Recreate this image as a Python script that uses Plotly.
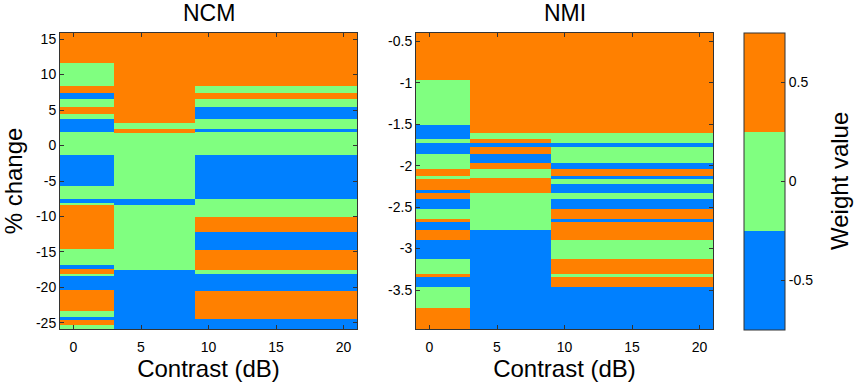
import plotly.graph_objects as go

# ---------------- data ----------------
contrast_edges = [-1, 3, 9, 21]          # column edges (dB)

# NCM panel: row boundaries (% change, top -> bottom) and weight per band
ncm_c1_bounds = [15.85, 11.58, 8.38, 7.35, 6.51, 5.38, 4.48, 3.69, 1.86, -1.34, -5.70, -7.58,
                 -8.14, -8.42, -14.62, -16.83, -17.44, -18.14, -18.34, -20.35, -23.31, -24.11,
                 -24.58, -25.28, -25.85]
ncm_c1_weights = [0.5, 0, 0.5, -0.5, 0, 0.5, 0, -0.5, 0, -0.5, 0, -0.5, 0, 0.5, 0, -0.5, 0.5,
                  0, -0.5, 0.5, 0, -0.5, 0.5, 0]
ncm_c2_bounds = [15.85, 3.21, 2.37, 1.80, -7.58, -8.38, -17.54, -25.85]
ncm_c2_weights = [0.5, 0, 0.5, 0, -0.5, 0, -0.5]
ncm_c3_bounds = [15.85, 8.40, 7.35, 6.51, 5.38, 3.77, 2.37, 1.86, -1.34, -7.58, -10.11, -12.14,
                 -14.72, -17.54, -18.14, -20.45, -24.48, -25.85]
ncm_c3_weights = [0.5, 0, 0.5, 0, -0.5, 0, -0.5, 0, -0.5, 0, 0.5, -0.5, 0.5, 0, -0.5, 0.5, -0.5]

# NMI panel
nmi_c1_bounds = [-0.40, -0.97, -1.51, -1.68, -1.725, -1.865, -2.046, -2.123, -2.159, -2.295,
                 -2.335, -2.407, -2.528, -2.648, -2.681, -2.777, -2.898, -3.127, -3.307,
                 -3.340, -3.467, -3.713, -3.97]
nmi_c1_weights = [0.5, 0, -0.5, 0, -0.5, 0, 0.5, 0, 0.5, -0.5, 0.5, -0.5, 0, 0.5, -0.5, 0.5,
                  -0.5, 0, 0.5, -0.5, 0, 0.5]
nmi_c2_bounds = [-0.40, -1.60, -1.684, -1.725, -1.773, -1.865, -1.973, -2.046, -2.154, -2.335,
                 -2.777, -3.97]
nmi_c2_weights = [0.5, 0, 0.5, -0.5, 0.5, -0.5, 0.5, 0, 0.5, 0, -0.5]
nmi_c3_bounds = [-0.40, -1.60, -1.725, -1.773, -1.973, -2.046, -2.123, -2.159, -2.227, -2.335,
                 -2.407, -2.528, -2.648, -2.681, -2.898, -3.127, -3.307, -3.340, -3.467, -3.97]
nmi_c3_weights = [0.5, 0, -0.5, 0, -0.5, 0.5, -0.5, 0, -0.5, 0, -0.5, 0.5, -0.5, 0.5, 0, 0.5,
                  0, 0.5, -0.5]

x_ticks = [0, 5, 10, 15, 20]
ncm_yticks = [15, 10, 5, 0, -5, -10, -15, -20, -25]
ncm_ylabels = ["15", "10", "5", "0", "-5", "-10", "-15", "-20", "-25"]
nmi_yticks = [-0.5, -1, -1.5, -2, -2.5, -3, -3.5]
nmi_ylabels = ["-0.5", "-1", "-1.5", "-2", "-2.5", "-3", "-3.5"]
cbar_ticks = [-0.5, 0, 0.5]
cbar_labels = ["-0.5", "0", "0.5"]

# ---------------- figure ----------------
W, H = 856, 385
FONT = "Liberation Sans, Arial, sans-serif"
BLUE, GREEN, ORANGE = "#0080FF", "#80FF80", "#FF8000"

fig = go.Figure()

panels = [
    ("x", "y", [(ncm_c1_bounds, ncm_c1_weights), (ncm_c2_bounds, ncm_c2_weights),
                (ncm_c3_bounds, ncm_c3_weights)]),
    ("x2", "y2", [(nmi_c1_bounds, nmi_c1_weights), (nmi_c2_bounds, nmi_c2_weights),
                  (nmi_c3_bounds, nmi_c3_weights)]),
]
for xa, ya, cols in panels:
    for i, (bounds, weights) in enumerate(cols):
        yb = list(reversed(bounds))
        zw = [[w] for w in reversed(weights)]
        fig.add_trace(go.Heatmap(
            x=[contrast_edges[i], contrast_edges[i + 1]], y=yb, z=zw,
            coloraxis="coloraxis", xaxis=xa, yaxis=ya, hoverinfo="skip"))

def px_x(p):
    return p / W

def px_y(p):
    return 1 - p / H

axis_common = dict(showline=True, linecolor="#333333", linewidth=1, mirror="ticks",
                   ticks="inside", ticklen=4, tickcolor="#333333", showgrid=False,
                   zeroline=False, automargin=False,
                   tickfont=dict(family=FONT, size=14, color="black"))

fig.update_layout(
    width=W, height=H,
    margin=dict(l=0, r=0, t=0, b=0, autoexpand=False),
    paper_bgcolor="white", plot_bgcolor="white",
    font=dict(family=FONT, color="black"),
    xaxis=dict(domain=[px_x(60), px_x(357)], range=[-1, 21], tickvals=x_ticks,
               ticklabelstandoff=5,
               title=dict(text="Contrast (dB)", font=dict(size=24), standoff=5),
               anchor="y", **axis_common),
    yaxis=dict(domain=[px_y(329), px_y(33)], range=[-25.85, 15.85], tickvals=ncm_yticks,
               ticktext=ncm_ylabels,
               title=dict(text="% change", font=dict(size=24), standoff=16),
               anchor="x", **axis_common),
    xaxis2=dict(domain=[px_x(416), px_x(713)], range=[-1, 21], tickvals=x_ticks,
                ticklabelstandoff=5,
                title=dict(text="Contrast (dB)", font=dict(size=24), standoff=5),
                anchor="y2", **axis_common),
    yaxis2=dict(domain=[px_y(329), px_y(33)], range=[-3.97, -0.40], tickvals=nmi_yticks,
                ticktext=nmi_ylabels, anchor="x2", **axis_common),
    coloraxis=dict(
        cmin=-0.75, cmax=0.75,
        colorscale=[[0, BLUE], [1 / 3, BLUE], [1 / 3, GREEN], [2 / 3, GREEN],
                    [2 / 3, ORANGE], [1, ORANGE]],
        colorbar=dict(
            x=px_x(744), xanchor="left", xpad=0, ypad=0,
            y=px_y((33 + 330) / 2), yanchor="middle",
            len=(330 - 33) / H, lenmode="fraction",
            thickness=41, thicknessmode="pixels",
            outlinecolor="#333333", outlinewidth=1,
            ticks="inside", ticklen=4, tickcolor="#333333",
            tickvals=cbar_ticks, ticktext=cbar_labels,
            tickfont=dict(family=FONT, size=14, color="black"),
        ),
    ),
    annotations=[
        dict(text="NCM", x=(px_x(60) + px_x(357)) / 2, y=px_y(13), xref="paper", yref="paper",
             showarrow=False, font=dict(size=23, family=FONT, color="black"),
             xanchor="center", yanchor="middle"),
        dict(text="NMI", x=(px_x(416) + px_x(713)) / 2, y=px_y(13), xref="paper", yref="paper",
             showarrow=False, font=dict(size=23, family=FONT, color="black"),
             xanchor="center", yanchor="middle"),
        dict(text="Weight value", x=px_x(839), y=px_y(181), xref="paper", yref="paper",
             showarrow=False, textangle=-90, font=dict(size=24, family=FONT, color="black"),
             xanchor="center", yanchor="middle"),
    ],
)

fig.write_html("out.html", config={"displayModeBar": False},
               post_script="document.body.style.margin='0px';")
